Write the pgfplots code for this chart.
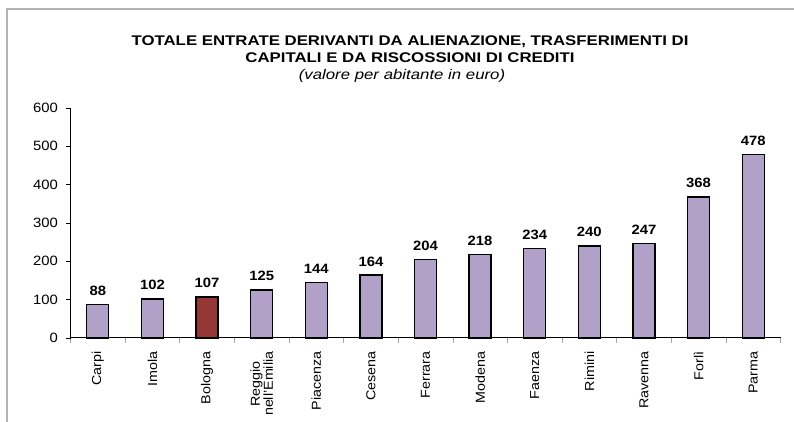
\documentclass[border=0pt]{standalone}
\usepackage{fontspec}
\setmainfont{Liberation Sans}[FakeStretch=1.1]
\newfontfamily\titlefont{Liberation Sans}[FakeStretch=1.2]
\usepackage{pgfplots}
\pgfplotsset{compat=1.18}
\definecolor{lav}{HTML}{B1A0C7}
\definecolor{bol}{HTML}{953735}
\definecolor{frame}{HTML}{B4B4B4}
\begin{document}
\begin{tikzpicture}
\path[use as bounding box] (0pt,0pt) rectangle (794pt,422pt);
\draw[frame, line width=1.2pt] (7pt,0pt) -- (7pt,413pt) -- (794pt,413pt);
\node[font=\titlefont\bfseries\fontsize{14}{16.5}\selectfont, align=center] at (410pt,373pt)
  {TOTALE ENTRATE DERIVANTI DA ALIENAZIONE, TRASFERIMENTI DI\\CAPITALI E DA RISCOSSIONI DI CREDITI};
\node[font=\titlefont\itshape\fontsize{14}{16}\selectfont] at (402pt,346pt) {(valore per abitante in euro)};
\begin{axis}[
  at={(70.5pt,84pt)}, anchor=south west,
  scale only axis, width=710pt, height=230pt,
  xmin=-0.5, xmax=12.5, ymin=0, ymax=600,
  axis x line=bottom, axis y line=left,
  axis line style={-, line width=1pt},
  ytick={0,100,...,600},
  xtick={0,...,12},
  xticklabels={Carpi,Imola,Bologna,{Reggio\\nell'Emilia},Piacenza,Cesena,Ferrara,Modena,Faenza,Rimini,Ravenna,Forl\`i,Parma},
  major x tick style={draw=none},
  minor xtick={-0.5,0.5,...,12.5},
  minor tick length=5pt,
  major tick length=5pt,
  tick align=outside,
  tick style={black, line width=0.6pt},
  minor x tick style={gray!70, line width=0.6pt},
  x tick label style={rotate=90, anchor=east, align=center, font=\fontsize{13}{13}\selectfont, xshift=-5pt},
  y tick label style={font=\fontsize{13.5}{14}\selectfont, xshift=-4pt},
  /pgf/number format/assume math mode=true,
  ybar, bar width=22pt, bar shift=0pt,
  nodes near coords,
  every node near coord/.append style={font=\bfseries\fontsize{13.5}{14}\selectfont, yshift=5pt},
  clip=false,
]
\addplot[fill=lav, draw=black, line width=1.3pt] coordinates {(0,88) (1,102) (3,125) (4,144) (5,164) (6,204) (7,218) (8,234) (9,240) (10,247) (11,368) (12,478)};
\addplot[fill=bol, draw=black, line width=1.3pt] coordinates {(2,107)};
\end{axis}
\end{tikzpicture}
\end{document}
